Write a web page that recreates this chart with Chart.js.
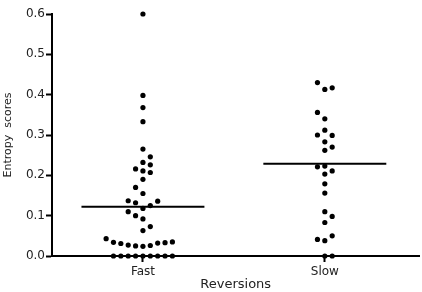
<!DOCTYPE html>
<html>
<head>
<meta charset="utf-8">
<script src="https://cdn.jsdelivr.net/npm/chart.js@4"></script>
<style>
  html, body { margin: 0; padding: 0; background: #fff; }
  #wrap { width: 422px; height: 292px; }
</style>
</head>
<body>
<div id="wrap"><canvas id="grafico"></canvas></div>
<script>
// categorias e valores
const categorias = ['Fast', 'Slow'];

// Fast: valor e coluna (deslocamento horizontal do ponto no enxame)
const valoresFast = [
  0.600, 0.398, 0.368, 0.333,
  0.265, 0.246, 0.232, 0.226, 0.216, 0.211, 0.207, 0.190, 0.170, 0.155,
  0.137, 0.132, 0.136, 0.118, 0.125, 0.110, 0.100, 0.092, 0.063, 0.073,
  0.043, 0.034, 0.031, 0.027, 0.025, 0.024, 0.026, 0.032, 0.033, 0.035,
  0, 0, 0, 0, 0, 0, 0, 0, 0
];
const colunasFast = [
  0, 0, 0, 0,
  0, 1, 0, 1, -1, 0, 1, 0, -1, 0,
  -2, -1, 2, 0, 1, -2, -1, 0, 0, 1,
  -5, -4, -3, -2, -1, 0, 1, 2, 3, 4,
  -4, -3, -2, -1, 0, 1, 2, 3, 4
];

const valoresSlow = [
  0.430, 0.413, 0.417, 0.356, 0.340, 0.312, 0.300, 0.299, 0.283, 0.270,
  0.262, 0.221, 0.223, 0.211, 0.203, 0.179, 0.156, 0.110, 0.098, 0.083,
  0.050, 0.041, 0.038, 0, 0
];
const colunasSlow = [
  -1, 0, 1, -1, 0, 0, -1, 1, 0, 1,
  0, -1, 0, 1, 0, 0, 0, 0, 1, 0,
  1, -1, 0, 0, 1
];

// linha da média de cada grupo
const medias = [0.122, 0.229];

const ticksY = [0, 0.1, 0.2, 0.3, 0.4, 0.5, 0.6];

const ESPACO_COLUNA = 0.0405;   // largura de uma coluna do enxame (unidades do eixo x)
const MEIA_LINHA = 0.338;       // meia largura da linha da média

function pontos(valores, colunas, pos) {
  return valores.map((v, i) => ({ x: pos + colunas[i] * ESPACO_COLUNA, y: v }));
}

const conjuntos = [
  { data: pontos(valoresFast, colunasFast, 1) },
  { data: pontos(valoresSlow, colunasSlow, 2) }
].map(d => ({
  ...d,
  type: 'scatter',
  pointRadius: 2.6,
  pointHoverRadius: 2.6,
  pointBackgroundColor: '#000',
  pointBorderWidth: 0,
  clip: false
}));

medias.forEach((m, i) => {
  conjuntos.push({
    type: 'line',
    data: [{ x: i + 1 - MEIA_LINHA, y: m }, { x: i + 1 + MEIA_LINHA, y: m }],
    borderColor: '#000',
    borderWidth: 2,
    pointRadius: 0,
    clip: false
  });
});

const fonte = "'DejaVu Sans', sans-serif";

new Chart(document.getElementById('grafico'), {
  type: 'scatter',
  data: { datasets: conjuntos },
  options: {
    responsive: true,
    maintainAspectRatio: false,
    animation: false,
    events: [],
    layout: { padding: { top: 14, right: 0, left: 0, bottom: 0 } },
    plugins: {
      legend: { display: false },
      tooltip: { enabled: false }
    },
    scales: {
      x: {
        type: 'linear',
        min: 0.5,
        max: 2.52,
        afterBuildTicks: s => { s.ticks = categorias.map((c, i) => ({ value: i + 1 })); },
        afterFit: s => { s.height = 36; },
        border: { display: true, color: '#000', width: 2 },
        grid: { drawOnChartArea: false, drawTicks: true, tickLength: 6, tickWidth: 2, tickColor: '#000' },
        ticks: {
          autoSkip: false,
          maxRotation: 0,
          padding: 3,
          color: '#222',
          font: { family: fonte, size: 12 },
          callback: v => categorias[Math.round(v) - 1] || ''
        },
        title: {
          display: true,
          text: 'Reversions',
          color: '#222',
          font: { family: fonte, size: 13 },
          padding: { top: 0, bottom: 0 }
        }
      },
      y: {
        min: 0,
        max: 0.6,
        afterBuildTicks: s => { s.ticks = ticksY.map(v => ({ value: v })); },
        afterFit: s => { s.width = 52; },
        border: { display: true, color: '#000', width: 2 },
        grid: { drawOnChartArea: false, drawTicks: true, tickLength: 6, tickWidth: 2, tickColor: '#000' },
        ticks: {
          padding: 1,
          color: '#222',
          font: { family: fonte, size: 12 },
          callback: v => v.toFixed(1)
        },
        title: {
          display: true,
          text: 'Entropy  scores',
          color: '#222',
          font: { family: fonte, size: 11 },
          padding: { top: 2, bottom: 0 }
        }
      }
    }
  }
});
</script>
</body>
</html>
